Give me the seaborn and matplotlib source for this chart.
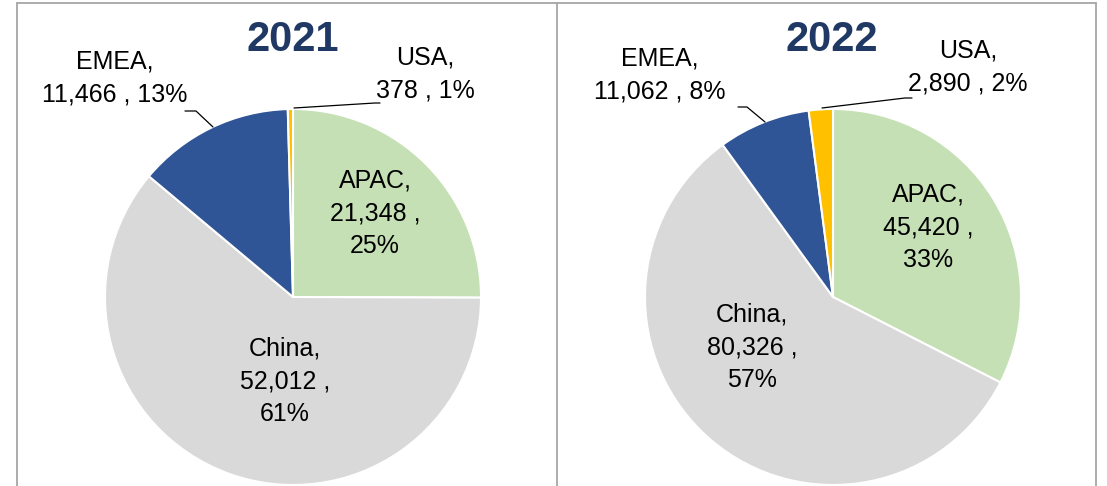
import matplotlib
matplotlib.use("Agg")
import matplotlib.pyplot as plt
import seaborn as sns

sns.set_style("white")
plt.rcParams["font.family"] = ["Liberation Sans", "DejaVu Sans"]

# data
regions = ["APAC", "China", "EMEA", "USA"]
years = ["2021", "2022"]
values_2021 = [21348, 52012, 11466, 378]
values_2022 = [45420, 80326, 11062, 2890]
pct_2021 = [25, 61, 13, 1]
pct_2022 = [33, 57, 8, 2]
colors = ["#C5E0B4", "#D9D9D9", "#2F5597", "#FFC000"]

W, H = 1107, 486
fig = plt.figure(figsize=(W / 100, H / 100), dpi=100)
ax = fig.add_axes([0, 0, 1, 1])
ax.set_xlim(0, W)
ax.set_ylim(0, H)
ax.set_aspect("equal")
ax.axis("off")


def py(y):
    # pixel row from top -> data y
    return H - y


# panel borders
border = "#A6A6A6"
ax.plot([17, 1096], [py(3), py(3)], color=border, lw=1.3)
for x in [17, 557, 1096]:
    ax.plot([x, x], [py(3), 0], color=border, lw=1.3)

panels = [
    dict(vals=values_2021, pct=pct_2021, cx=293, title=(293, 40),
         inner={"APAC": (375, 213), "China": (285, 381)},
         outer={"EMEA": (115, 78), "USA": (425, 74)},
         lines={"EMEA": [(185, 111), (196, 111), (213, 127)],
                "USA": [(294, 108), (375, 103), (380, 103)]}),
    dict(vals=values_2022, pct=pct_2022, cx=833, title=(832, 40),
         inner={"APAC": (928, 227), "China": (752, 347)},
         outer={"EMEA": (660, 75), "USA": (968, 67)},
         lines={"EMEA": [(738, 107), (747, 107), (765, 122)],
                "USA": [(822, 108), (905, 98), (912, 98)]}),
]

for year, p in zip(years, panels):
    ax.pie(p["vals"], colors=colors, startangle=90, counterclock=False,
           center=(p["cx"], py(297)), radius=188, frame=True,
           wedgeprops=dict(edgecolor="white", linewidth=1.5))
    ax.text(p["title"][0], py(p["title"][1]), year, ha="center", va="center",
            fontsize=30, fontweight="bold", color="#1F3864")
    for name, val, pc in zip(regions, p["vals"], p["pct"]):
        if name in p["inner"]:
            x, y = p["inner"][name]
            label = f"{name},\n{val:,} ,\n{pc}%"
        else:
            x, y = p["outer"][name]
            label = f"{name},\n{val:,} , {pc}%"
            pts = p["lines"][name]
            ax.plot([q[0] for q in pts], [py(q[1]) for q in pts],
                    color="black", lw=0.9)
        ax.text(x, py(y), label, ha="center", va="center", fontsize=18,
                color="black", linespacing=1.45)

ax.set_xlim(0, W)
ax.set_ylim(0, H)
ax.axis("off")
fig.savefig("out.png", dpi=100)
